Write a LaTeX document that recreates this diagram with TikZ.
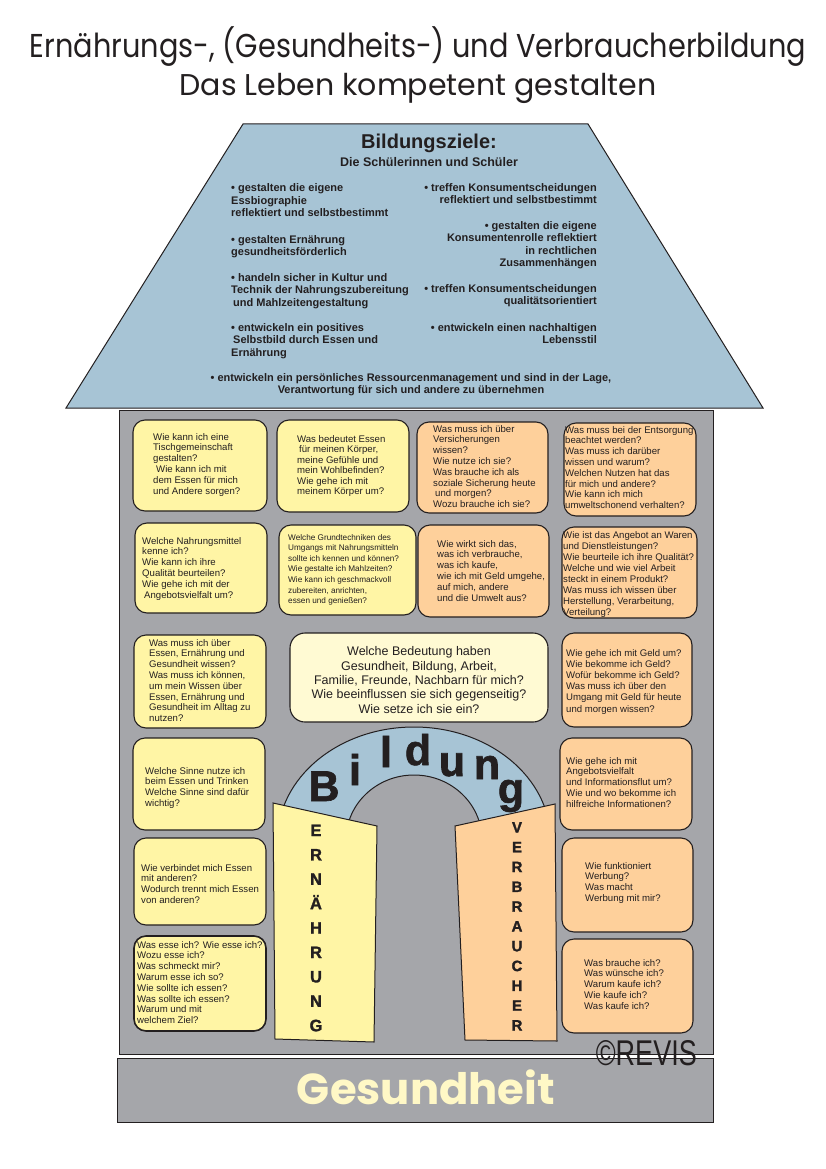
\documentclass[tikz,border=0pt]{standalone}
\usepackage{fontspec}
\setmainfont{Liberation Sans}
\newfontfamily\titlefont{Poppins}
\newfontfamily\heavyfont{Liberation Sans}[BoldFeatures={FakeBold=1.5}]
\definecolor{roofc}{HTML}{A7C4D5}
\definecolor{wallc}{HTML}{A5A6AA}
\definecolor{yel}{HTML}{FFF5A5}
\definecolor{peach}{HTML}{FED09B}
\definecolor{cream}{HTML}{FFFAD3}
\definecolor{linec}{HTML}{231F20}
\definecolor{txt}{HTML}{231F20}
\definecolor{gtext}{HTML}{FFF8C6}
\tikzset{
  qbox/.style={draw=linec, line width=1.1pt, rounded corners=12pt},
  ybox/.style={qbox, fill=yel},
  obox/.style={qbox, fill=peach},
  qtext/.style={anchor=north west, inner sep=0pt, align=left, text=txt,
    font=\fontsize{9.6}{10.8}\selectfont},
  rooftext/.style={inner sep=0pt, text=txt, font=\bfseries\fontsize{11}{12.6}\selectfont},
  bookl/.style={anchor=base, inner sep=0pt, text=txt, font=\heavyfont\bfseries\fontsize{16.5}{16.5}\selectfont},
  bookr/.style={anchor=base, inner sep=0pt, text=txt, font=\heavyfont\bfseries\fontsize{15}{15}\selectfont},
  arcl/.style={anchor=base, inner sep=0pt, text=txt, font=\heavyfont\bfseries\fontsize{43}{43}\selectfont},
  titlet/.style={inner sep=0pt, text=txt, font=\titlefont\fontsize{27}{30}\selectfont},
}
\begin{document}
\begin{tikzpicture}[x=1pt,y=-1pt]
\useasboundingbox (0,0) rectangle (826,1169);
% title
\node[titlet] (title1) at (418,47) {\resizebox{776pt}{!}{\scalebox{1}[1.15]{Ernährungs-, (Gesundheits-) und Verbraucherbildung}}};
\node[titlet] (title2) at (418,88) {\resizebox{477pt}{!}{\scalebox{1}[1.0]{Das Leben kompetent gestalten}}};
% wall
\path[draw=linec, line width=1pt, fill=wallc] (119,410) rectangle (713,1054);
% base band
\path[draw=linec, line width=1pt, fill=wallc] (117,1058) rectangle (713,1122);
\node[inner sep=0pt, text=gtext] (ges) at (426,1087) {\resizebox{258pt}{!}{\titlefont\bfseries Gesundheit}};
% roof
\path[draw=linec, line width=1pt, fill=roofc] (243,124) -- (588,124) -- (763,408) -- (66,408) -- cycle;
\node[anchor=base, inner sep=0pt, text=txt, font=\bfseries\fontsize{20}{20}\selectfont] (bz) at (429,149) {Bildungsziele:};
\node[anchor=base, inner sep=0pt, text=txt, font=\bfseries\fontsize{12.5}{12.5}\selectfont] (sus) at (429,167) {Die Schülerinnen und Schüler};
\node[rooftext, anchor=north west, align=left] (l1) at (231,183.5) {\textbullet\ gestalten die eigene\\Essbiographie\\reflektiert und selbstbestimmt};
\node[rooftext, anchor=north west, align=left] (l2) at (231,235) {\textbullet\ gestalten Ernährung\\gesundheitsförderlich};
\node[rooftext, anchor=north west, align=left] (l3) at (231,273) {\textbullet\ handeln sicher in Kultur und\\Technik der Nahrungszubereitung\\\hspace{2pt}und Mahlzeitengestaltung};
\node[rooftext, anchor=north west, align=left] (l4) at (231,323) {\textbullet\ entwickeln ein positives\\\hspace{2pt}Selbstbild durch Essen und\\Ernährung};
\node[rooftext, anchor=north east, align=right] (r1) at (597,183) {\textbullet\ treffen Konsumentscheidungen\\reflektiert und selbstbestimmt};
\node[rooftext, anchor=north east, align=right] (r2) at (597,221) {\textbullet\ gestalten die eigene\\Konsumentenrolle reflektiert\\in rechtlichen\\Zusammenhängen};
\node[rooftext, anchor=north east, align=right] (r3) at (597,284) {\textbullet\ treffen Konsumentscheidungen\\qualitätsorientiert};
\node[rooftext, anchor=north east, align=right] (r4) at (597,323) {\textbullet\ entwickeln einen nachhaltigen\\Lebensstil};
\node[rooftext, anchor=north, align=center] (b1) at (411,373) {\textbullet\ entwickeln ein persönliches Ressourcenmanagement und sind in der Lage,\\Verantwortung für sich und andere zu übernehmen};
% boxes row 1-2
\path[ybox] (133,420) rectangle (267,511);
\node[qtext] (t1) at (153,433) {Wie kann ich eine\\Tischgemeinschaft\\gestalten?\\\hspace{3pt}Wie kann ich mit\\dem Essen für mich\\und Andere sorgen?};
\path[ybox] (277,420) rectangle (409,512);
\node[qtext, font=\fontsize{9.6}{10.5}\selectfont] (t2) at (297,435) {Was bedeutet Essen\\\hspace{2pt}für meinen Körper,\\meine Gefühle und\\mein Wohlbefinden?\\Wie gehe ich mit\\meinem Körper um?};
\path[ybox] (135,523) rectangle (267,613);
\node[qtext] (t3) at (142,537) {Welche Nahrungsmittel\\kenne ich?\\Wie kann ich ihre\\Qualität beurteilen?\\Wie gehe ich mit der\\\hspace{2pt}Angebotsvielfalt um?};
\path[ybox] (279,525) rectangle (416,615);
\node[qtext, font=\fontsize{8.2}{10.6}\selectfont] (t4) at (288,534) {Welche Grundtechniken des\\Umgangs mit Nahrungsmitteln\\sollte ich kennen und können?\\Wie gestalte ich Mahlzeiten?\\Wie kann ich geschmackvoll\\zubereiten, anrichten,\\essen und genießen?};
\path[obox] (417,422) rectangle (548,513);
\node[qtext] (t5) at (433,425) {Was muss ich über\\Versicherungen\\wissen?\\Wie nutze ich sie?\\Was brauche ich als\\soziale Sicherung heute\\\hspace{2pt}und morgen?\\Wozu brauche ich sie?};
\path[obox] (564,423) rectangle (696,516);
\node[qtext] (t6) at (565,426) {Was muss bei der Entsorgung\\beachtet werden?\\Was muss ich darüber\\wissen und warum?\\Welchen Nutzen hat das\\für mich und andere?\\Wie kann ich mich\\umweltschonend verhalten?};
\path[obox] (418,525) rectangle (549,617);
\node[qtext] (t7) at (437,540) {Wie wirkt sich das,\\was ich verbrauche,\\was ich kaufe,\\wie ich mit Geld umgehe,\\auf mich, andere\\und die Umwelt aus?};
\path[obox] (562,527) rectangle (697,618);
\node[qtext, font=\fontsize{9.6}{11}\selectfont] (t8) at (563,531) {Wie ist das Angebot an Waren\\und Dienstleistungen?\\Wie beurteile ich ihre Qualität?\\Welche und wie viel Arbeit\\steckt in einem Produkt?\\Was muss ich wissen über\\Herstellung, Verarbeitung,\\Verteilung?};
% row 3
\path[ybox] (134,635) rectangle (266,728);
\node[qtext] (t9) at (149,639) {Was muss ich über\\Essen, Ernährung und\\Gesundheit wissen?\\Was muss ich können,\\um mein Wissen über\\Essen, Ernährung und\\Gesundheit im Alltag zu\\nutzen?};
\path[qbox, fill=cream, rounded corners=15pt] (290,633) rectangle (548,722);
\node[inner sep=0pt, align=center, text=txt, font=\fontsize{12.5}{14.3}\selectfont] (tc) at (419,680) {Welche Bedeutung haben\\Gesundheit, Bildung, Arbeit,\\Familie, Freunde, Nachbarn für mich?\\Wie beeinflussen sie sich gegenseitig?\\Wie setze ich sie ein?};
\path[obox] (562,633) rectangle (692,727);
\node[qtext, font=\fontsize{9.6}{11.2}\selectfont] (t10) at (566,649) {Wie gehe ich mit Geld um?\\Wie bekomme ich Geld?\\Wofür bekomme ich Geld?\\Was muss ich über den\\Umgang mit Geld für heute\\und morgen wissen?};
% row 4
\path[ybox] (133,738) rectangle (265,830);
\node[qtext] (t11) at (145,767) {Welche Sinne nutze ich\\beim Essen und Trinken\\Welche Sinne sind dafür\\wichtig?};
\path[obox] (560,738) rectangle (692,830);
\node[qtext] (t12) at (566,757) {Wie gehe ich mit\\Angebotsvielfalt\\und Informationsflut um?\\Wie und wo bekomme ich\\hilfreiche Informationen?};
% row 5
\path[ybox] (134,838) rectangle (266,925);
\node[qtext] (t13) at (141,864) {Wie verbindet mich Essen\\mit anderen?\\Wodurch trennt mich Essen\\von anderen?};
\path[obox] (562,838) rectangle (693,932);
\node[qtext] (t14) at (585,862) {Wie funktioniert\\Werbung?\\Was macht\\Werbung mit mir?};
% row 6
\path[ybox, line width=1.6pt] (134,936) rectangle (266,1031);
\node[qtext] (t15) at (137,941) {Was esse ich? Wie esse ich?\\Wozu esse ich?\\Was schmeckt mir?\\Warum esse ich so?\\Wie sollte ich essen?\\Was sollte ich essen?\\Warum und mit\\welchem Ziel?};
\path[obox] (562,939) rectangle (693,1033);
\node[qtext] (t16) at (584,959) {Was brauche ich?\\Was wünsche ich?\\Warum kaufe ich?\\Wie kaufe ich?\\Was kaufe ich?};
% arch
\path[draw=linec, line width=1pt, fill=roofc] (277.5,840) arc[start angle=180, end angle=360, x radius=136.5, y radius=113] -- (482,840) arc[start angle=0, end angle=-180, x radius=68, y radius=65] -- cycle;
\node[arcl] (aB) at (324,801) {B};
\node[arcl] (ai) at (355,785) {i};
\node[arcl] (al) at (386,767) {l};
\node[arcl] (ad) at (418,765) {d};
\node[arcl] (au) at (452,776) {u};
\node[arcl] (an) at (487,779) {n};
\node[arcl] (ag) at (511,803) {g};
% books
\path[draw=linec, line width=1pt, fill=yel] (273,803) -- (377,826) -- (374,1042) -- (275,1039) -- cycle;
\path[draw=linec, line width=1pt, fill=peach] (455,826) -- (555,804) -- (557,1041) -- (465,1040) -- cycle;
\foreach \L [count=\i] in {E,R,N,Ä,H,R,U,N,G}
  \node[bookl] (ern\i) at (316,{836+24.4*(\i-1)}) {\L};
\foreach \L [count=\i] in {V,E,R,B,R,A,U,C,H,E,R}
  \node[bookr] (ver\i) at (517,{832.5+19.8*(\i-1)}) {\L};
% copyright
\node[anchor=south east, inner sep=0pt, text=txt] (rev) at (697,1066) {\resizebox{101pt}{25pt}{©REVIS}};
\end{tikzpicture}
\end{document}
